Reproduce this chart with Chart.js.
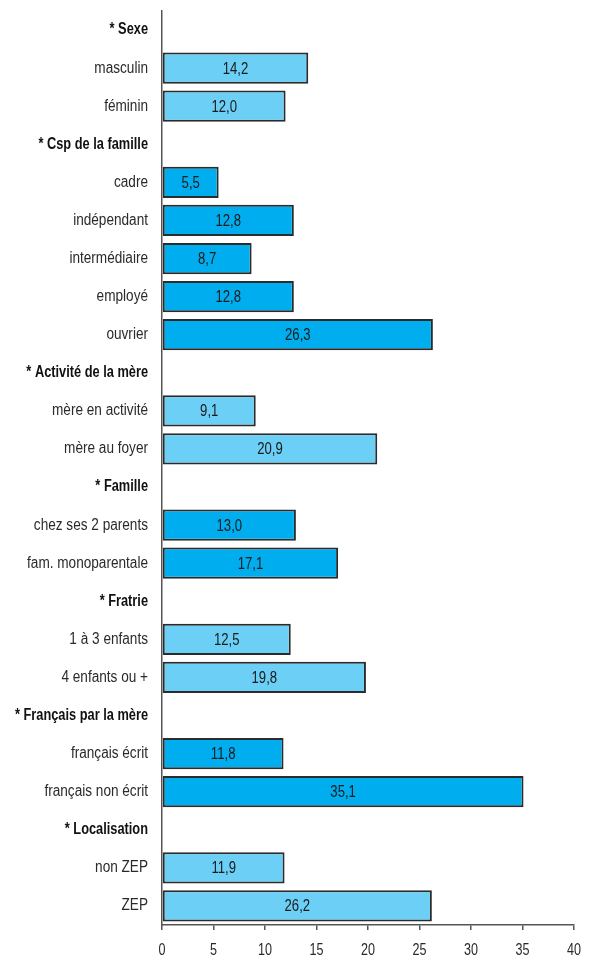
<!DOCTYPE html>
<html lang="fr">
<head>
<meta charset="utf-8">
<script src="https://cdn.jsdelivr.net/npm/chart.js@4/dist/chart.umd.min.js"></script>
<style>
    html, body { margin: 0; padding: 0; background: #fff; }
    #wrap { position: relative; width: 590px; height: 957px; }
</style>
</head>
<body>
<div id="wrap"><canvas id="chart"></canvas></div>
<script>
// Rows of the chart: "* ..." rows are group headings with no bar
const categories = [
    '* Sexe', 'masculin', 'féminin',
    '* Csp de la famille', 'cadre', 'indépendant', 'intermédiaire', 'employé', 'ouvrier',
    '* Activité de la mère', 'mère en activité', 'mère au foyer',
    '* Famille', 'chez ses 2 parents', 'fam. monoparentale',
    '* Fratrie', '1 à 3 enfants', '4 enfants ou +',
    '* Français par la mère', 'français écrit', 'français non écrit',
    '* Localisation', 'non ZEP', 'ZEP',
];
const values = [
    null, 14.2, 12.0,
    null, 5.5, 12.8, 8.7, 12.8, 26.3,
    null, 9.1, 20.9,
    null, 13.0, 17.1,
    null, 12.5, 19.8,
    null, 11.8, 35.1,
    null, 11.9, 26.2,
];
const xTicks = [0, 5, 10, 15, 20, 25, 30, 35, 40];

const LIGHT = '#6bcff6';
const DARK = '#00aeef';
const FONT = '"Liberation Sans", Arial, sans-serif';

const isHeader = (i) => categories[i].startsWith('*');

// groups alternate between the light and the dark blue
let group = -1;
const barColors = categories.map((c, i) => {
    if (isHeader(i)) group++;
    return group % 2 === 0 ? LIGHT : DARK;
});

const fmt = (v) => v.toFixed(1).replace('.', ',');

// text set in a narrow face: squeeze horizontally around the anchor point
function narrowText(ctx, text, x, y, font, align, sx) {
    ctx.save();
    ctx.font = font;
    ctx.textAlign = align;
    ctx.textBaseline = 'middle';
    ctx.translate(x, y);
    ctx.scale(sx, 1);
    ctx.fillText(text, 0, 0);
    ctx.restore();
}

const narrowLabels = {
    id: 'narrowLabels',
    afterDraw(chart) {
        const ctx = chart.ctx;
        const xs = chart.scales.x;
        const ys = chart.scales.y;

        // category names and group headings
        categories.forEach((label, i) => {
            const y = ys.getPixelForTick(i);
            if (isHeader(i)) {
                ctx.fillStyle = '#111';
                narrowText(ctx, label, ys.right - 14, y, 'bold 16px ' + FONT, 'right', 0.8);
            } else {
                ctx.fillStyle = '#2a2a2a';
                narrowText(ctx, label, ys.right - 14, y, '16px ' + FONT, 'right', 0.85);
            }
        });

        // value inside each bar
        ctx.fillStyle = '#1a1a1a';
        chart.getDatasetMeta(0).data.forEach((bar, i) => {
            const v = values[i];
            if (v === null) return;
            narrowText(ctx, fmt(v), (bar.base + bar.x) / 2, bar.y + 1, '16px ' + FONT, 'center', 0.82);
        });

        // x tick labels
        ctx.fillStyle = '#2a2a2a';
        xTicks.forEach((v) => {
            narrowText(ctx, String(v), xs.getPixelForValue(v), xs.top + 25, '17px ' + FONT, 'center', 0.74);
        });
    },
};

new Chart(document.getElementById('chart').getContext('2d'), {
    type: 'bar',
    data: {
        labels: categories,
        datasets: [
            {
                data: values,
                backgroundColor: barColors,
                borderColor: '#2b2b2b',
                borderWidth: 2,
                borderSkipped: false,
                barPercentage: 0.82,
                categoryPercentage: 1,
            },
        ],
    },
    options: {
        indexAxis: 'y',
        responsive: true,
        maintainAspectRatio: false,
        animation: false,
        layout: { padding: { top: 11, right: 16, left: 0, bottom: 0 } },
        plugins: {
            legend: { display: false },
            tooltip: { enabled: false },
        },
        scales: {
            x: {
                min: 0,
                max: 40,
                afterBuildTicks: (scale) => {
                    scale.ticks = xTicks.map((v) => ({ value: v }));
                },
                afterFit: (scale) => {
                    scale.height = 32;
                    scale.paddingLeft = 0;
                    scale.paddingRight = 0;
                },
                border: { display: true, color: '#555', width: 1.5 },
                grid: {
                    drawOnChartArea: false,
                    drawTicks: true,
                    tickLength: 5,
                    color: '#555',
                    lineWidth: 1.5,
                },
                ticks: { display: false },
            },
            y: {
                afterFit: (scale) => {
                    scale.width = 162;
                    scale.paddingTop = 0;
                    scale.paddingBottom = 0;
                },
                border: { display: true, color: '#555', width: 1.5 },
                grid: { drawOnChartArea: false, drawTicks: false },
                ticks: { display: false, autoSkip: false },
            },
        },
    },
    plugins: [narrowLabels],
});
</script>
</body>
</html>
